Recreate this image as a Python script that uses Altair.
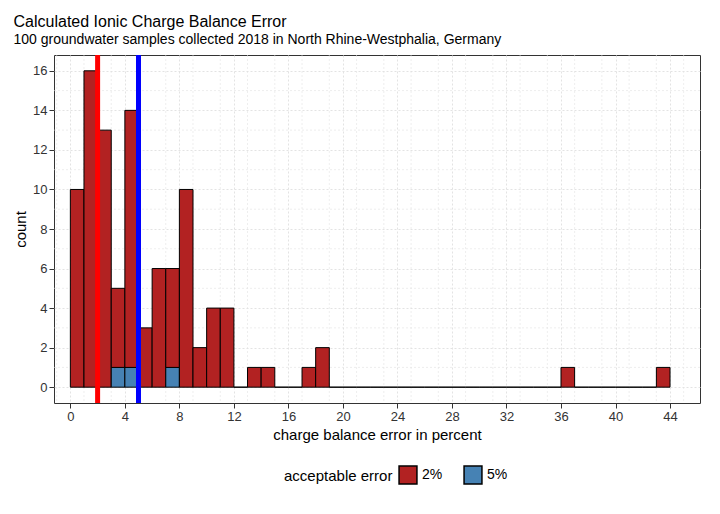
import altair as alt
import pandas as pd

# histogram bins (left edge, width 1) and counts
bin_start = list(range(0, 44))
red_counts = [10, 16, 13, 4, 13, 3, 6, 5, 10, 2, 4, 4, 0, 1, 1, 0, 0, 1, 2,
              0, 0, 0, 0, 0, 0, 0, 0, 0, 0, 0, 0, 0, 0, 0, 0, 0, 1, 0, 0, 0, 0, 0, 0, 1]
blue_counts = [0, 0, 0, 1, 1, 0, 0, 1] + [0] * 36

rows = []
for b, r, bl in zip(bin_start, red_counts, blue_counts):
    rows.append({'x': b, 'x2': b + 1, 'y': 0, 'y2': bl, 'grp': '5%'})
    rows.append({'x': b, 'x2': b + 1, 'y': bl, 'y2': bl + r, 'grp': '2%'})
df = pd.DataFrame(rows)
df = df[(df['y2'] > df['y']) | (df['grp'] == '2%')]

limits = pd.DataFrame({'v': [2, 5], 'grp': ['2%', '5%']})
minor_x = pd.DataFrame({'v': list(range(-1, 47, 2))})
minor_y = pd.DataFrame({'v': [1, 3, 5, 7, 9, 11, 13, 15]})

xs = alt.Scale(domain=[-1.2, 46.2], nice=False, zero=False)
ys = alt.Scale(domain=[-0.8, 16.8], nice=False, zero=False)
grid_color = '#e3e3e3'

def ax(title, vals):
    return alt.Axis(title=title, values=vals, grid=True, gridColor=grid_color, gridDash=[2, 2],
                    labelFontSize=13, titleFontSize=15, titleFontWeight='normal',
                    labelColor='#333333', titleColor='black', domain=False,
                    tickColor='#333333', labelOverlap=False, labelFont='Liberation Sans',
                    titleFont='Liberation Sans')

gx = alt.Chart(minor_x).mark_rule(color=grid_color, strokeDash=[2, 2], strokeWidth=0.6).encode(
    x=alt.X('v:Q', scale=xs))
gy = alt.Chart(minor_y).mark_rule(color=grid_color, strokeDash=[2, 2], strokeWidth=0.6).encode(
    y=alt.Y('v:Q', scale=ys))

bars = alt.Chart(df).mark_rect(stroke='black', strokeWidth=1).encode(
    x=alt.X('x:Q', scale=xs, axis=ax('charge balance error in percent', list(range(0, 47, 2)))),
    x2='x2:Q',
    y=alt.Y('y:Q', scale=ys, axis=ax('count', list(range(0, 17, 2)))),
    y2='y2:Q',
    color=alt.Color('grp:N', scale=alt.Scale(domain=['2%', '5%'], range=['#b22222', '#4682b4']),
                    legend=alt.Legend(title='acceptable error', orient='none', legendX=230, legendY=410,
                                      direction='horizontal',
                                      symbolType='square', symbolSize=320, symbolStrokeColor='black',
                                      titleOrient='left', titleFontSize=15, labelFontSize=14,
                                      titleFontWeight='normal', titleColor='black', labelColor='black',
                                      titleFont='Liberation Sans', labelFont='Liberation Sans',
                                      columnPadding=18)),
)

lines = alt.Chart(limits).mark_rule(strokeWidth=5).encode(
    x=alt.X('v:Q', scale=xs),
    color=alt.Color('grp:N', legend=None,
                    scale=alt.Scale(domain=['2%', '5%'], range=['#ff0000', '#0000ff'])),
)

chart = alt.layer(gx, gy, bars, lines).resolve_scale(color='independent').properties(
    width=646, height=348,
    padding={'left': 5, 'top': 5, 'right': 5, 'bottom': 5},
    title=alt.TitleParams('Calculated Ionic Charge Balance Error',
                          subtitle='100 groundwater samples collected 2018 in North Rhine-Westphalia, Germany',
                          anchor='start', fontSize=16, fontWeight='normal', subtitleFontSize=14,
                          color='black', subtitleColor='black', font='Liberation Sans',
                          subtitleFont='Liberation Sans', offset=6),
).configure_view(stroke='#333333')

chart.save('out.html', embed_options={'renderer': 'svg', 'actions': False})
